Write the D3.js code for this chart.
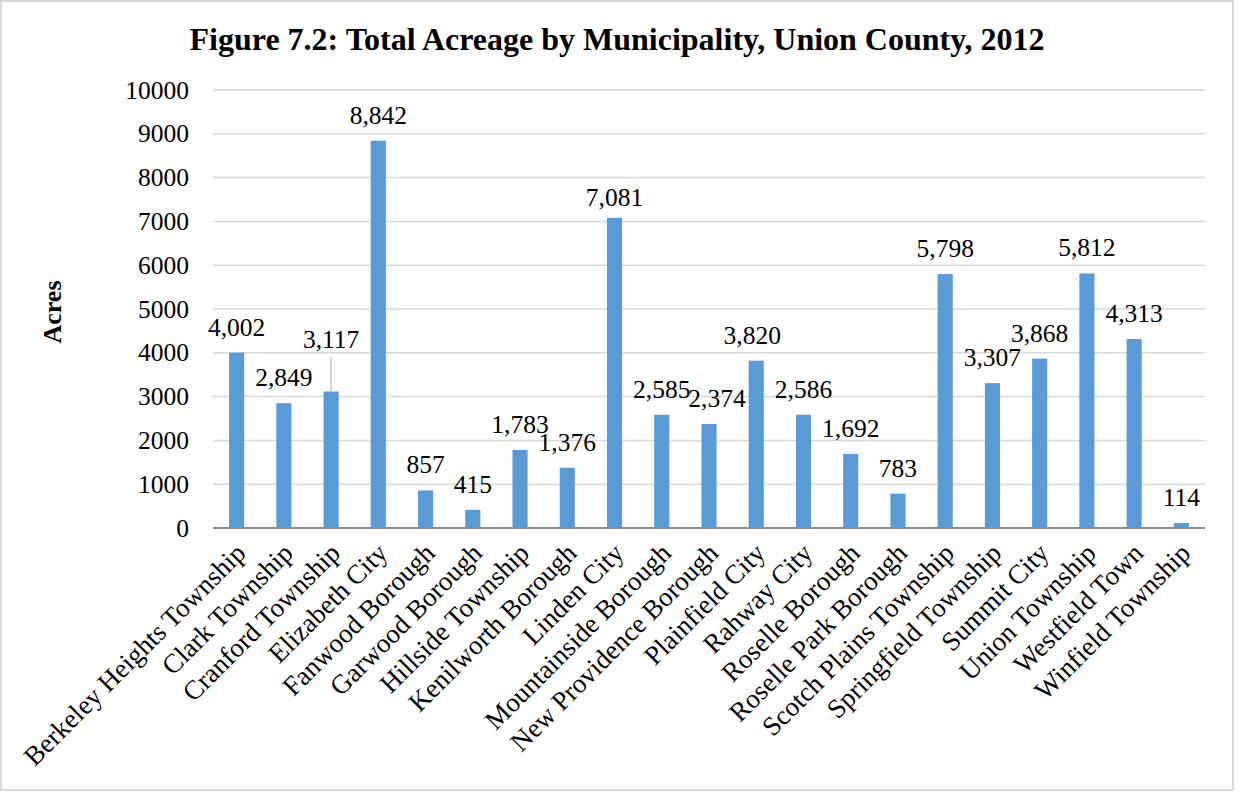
<!DOCTYPE html>
<html>
<head>
<meta charset="utf-8">
<script src="https://cdn.jsdelivr.net/npm/d3@7"></script>
<style>
  html, body { margin: 0; padding: 0; background: #fff; }
  svg { display: block; }
</style>
</head>
<body>
<svg id="chart" width="1238" height="792"></svg>
<script>
// Municipalities of Union County and their total acreage (2012)
const municipalities = [
  "Berkeley Heights Township", "Clark Township", "Cranford Township", "Elizabeth City",
  "Fanwood Borough", "Garwood Borough", "Hillside Township", "Kenilworth Borough",
  "Linden City", "Mountainside Borough", "New Providence Borough", "Plainfield City",
  "Rahway City", "Roselle Borough", "Roselle Park Borough", "Scotch Plains Township",
  "Springfield Township", "Summit City", "Union Township", "Westfield Town", "Winfield Township"
];
const acres = [
  4002, 2849, 3117, 8842, 857, 415, 1783, 1376, 7081, 2585, 2374,
  3820, 2586, 1692, 783, 5798, 3307, 3868, 5812, 4313, 114
];
const yTicks = [0, 1000, 2000, 3000, 4000, 5000, 6000, 7000, 8000, 9000, 10000];

const titleText = "Figure 7.2: Total Acreage by Municipality, Union County, 2012";
const yTitle = "Acres";

const SERIF = '"Liberation Serif", "Times New Roman", serif';
const plot = { left: 213, right: 1205, top: 90, bottom: 528 };
const barColor = "#5b9bd5";

const svg = d3.select("#chart");

// outer frame
svg.append("rect")
  .attr("x", 1).attr("y", 1).attr("width", 1232).attr("height", 789)
  .attr("fill", "#fff").attr("stroke", "#d9d9d9").attr("stroke-width", 2);

const x = d3.scaleBand()
  .domain(municipalities)
  .range([plot.left, plot.right])
  .paddingInner(0.68)
  .paddingOuter(0.34);

const y = d3.scaleLinear()
  .domain([0, 10000])
  .range([plot.bottom, plot.top]);

// horizontal gridlines
svg.append("g")
  .selectAll("line")
  .data(yTicks.filter(t => t > 0))
  .join("line")
  .attr("x1", plot.left).attr("x2", plot.right)
  .attr("y1", d => y(d)).attr("y2", d => y(d))
  .attr("stroke", "#d9d9d9").attr("stroke-width", 1.5);

// y axis labels
const yAxis = d3.axisLeft(y).tickValues(yTicks).tickSize(0).tickPadding(24)
  .tickFormat(d3.format("d"));
const gy = svg.append("g").attr("transform", `translate(${plot.left},0)`).call(yAxis);
gy.attr("font-family", SERIF).attr("font-size", 25.5);
gy.select(".domain").remove();
gy.selectAll("text").attr("fill", "#000");

// bars
svg.append("g")
  .selectAll("rect")
  .data(municipalities.map((m, i) => ({ m, v: acres[i] })))
  .join("rect")
  .attr("x", d => x(d.m))
  .attr("width", x.bandwidth())
  .attr("y", d => y(d.v))
  .attr("height", d => y(0) - y(d.v))
  .attr("fill", barColor);

// baseline
svg.append("line")
  .attr("x1", plot.left).attr("x2", plot.right)
  .attr("y1", y(0)).attr("y2", y(0))
  .attr("stroke", "#8c8c8c").attr("stroke-width", 2);

// value labels, a few moved aside where they would collide
const labelShift = {
  "Cranford Township": [0, -26],
  "Linden City": [0, 5],
  "New Providence Borough": [8, 0],
  "Plainfield City": [-4, 0]
};
const fmt = d3.format(",");
const lab = svg.append("g").attr("font-family", SERIF).attr("font-size", 25.5);
municipalities.forEach((m, i) => {
  const v = acres[i];
  const s = labelShift[m] || [0, 0];
  const cx = x(m) + x.bandwidth() / 2;
  const by = y(v) - 17 + s[1];
  lab.append("text")
    .attr("x", cx + s[0]).attr("y", by)
    .attr("text-anchor", "middle")
    .attr("fill", "#000")
    .text(fmt(v));
  if (s[1] < -10) {
    lab.append("line")
      .attr("x1", cx).attr("x2", cx)
      .attr("y1", by + 9).attr("y2", y(v))
      .attr("stroke", "#a6a6a6").attr("stroke-width", 1);
  }
});

// rotated category labels
svg.append("g")
  .attr("font-family", SERIF).attr("font-size", 27)
  .selectAll("text")
  .data(municipalities)
  .join("text")
  .attr("transform", d => `translate(${x(d) + x.bandwidth() / 2 + 4},${plot.bottom + 20}) rotate(-45)`)
  .attr("text-anchor", "end")
  .attr("dy", "0.35em")
  .attr("fill", "#000")
  .text(d => d);

// title
svg.append("text")
  .attr("x", 617).attr("y", 50)
  .attr("text-anchor", "middle")
  .attr("font-family", SERIF).attr("font-size", 32).attr("font-weight", "bold")
  .attr("fill", "#000")
  .text(titleText);

// y axis title
svg.append("text")
  .attr("transform", `translate(61,312) rotate(-90)`)
  .attr("text-anchor", "middle")
  .attr("font-family", SERIF).attr("font-size", 26).attr("font-weight", "bold")
  .attr("fill", "#000")
  .text(yTitle);
</script>
</body>
</html>
